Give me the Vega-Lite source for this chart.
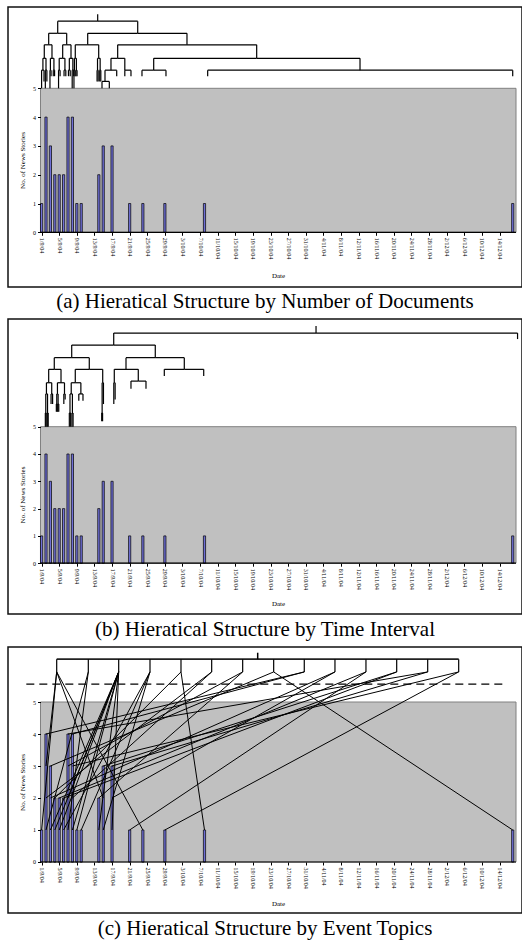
{
"$schema": "https://vega.github.io/schema/vega-lite/v6.json",
"background": "white",
"padding": {"left": 7, "top": 6, "right": 1, "bottom": 2},
"spacing": 5,
"config": {
  "view": {"stroke": "#111", "strokeWidth": 1.5},
  "title": {"font": "Liberation Serif", "fontSize": 21, "fontWeight": "normal", "color": "black", "anchor": "middle"}
},
"datasets": {
  "bars": [
    {"date": "1/9/04", "day": 0, "n": 1}, {"date": "2/9/04", "day": 1, "n": 4}, {"date": "3/9/04", "day": 2, "n": 3},
    {"date": "4/9/04", "day": 3, "n": 2}, {"date": "5/9/04", "day": 4, "n": 2}, {"date": "6/9/04", "day": 5, "n": 2},
    {"date": "7/9/04", "day": 6, "n": 4}, {"date": "8/9/04", "day": 7, "n": 4}, {"date": "9/9/04", "day": 8, "n": 1},
    {"date": "10/9/04", "day": 9, "n": 1}, {"date": "14/9/04", "day": 13, "n": 2}, {"date": "15/9/04", "day": 14, "n": 3},
    {"date": "17/9/04", "day": 16, "n": 3}, {"date": "21/9/04", "day": 20, "n": 1}, {"date": "24/9/04", "day": 23, "n": 1},
    {"date": "29/9/04", "day": 28, "n": 1}, {"date": "8/10/04", "day": 37, "n": 1}, {"date": "17/12/04", "day": 107, "n": 1}
  ],
  "edgesA": [
    {"px":12.74,"py":7.57,"cx":12.74,"cy":7.33},
    {"px":12.74,"py":7.33,"cx":3.66,"cy":6.91},
    {"px":12.74,"py":7.33,"cx":21.83,"cy":6.91},
    {"px":3.66,"py":6.91,"cx":1.61,"cy":6.51},
    {"px":3.66,"py":6.91,"cx":5.7,"cy":6.51},
    {"px":21.83,"py":6.91,"cx":10.47,"cy":6.51},
    {"px":21.83,"py":6.91,"cx":33.02,"cy":6.51},
    {"px":1.61,"py":6.51,"cx":0.61,"cy":6.04},
    {"px":1.61,"py":6.51,"cx":2.36,"cy":6.04},
    {"px":5.7,"py":6.51,"cx":4.79,"cy":6.04},
    {"px":5.7,"py":6.51,"cx":6.68,"cy":6.04},
    {"px":10.47,"py":6.51,"cx":7.65,"cy":6.04},
    {"px":10.47,"py":6.51,"cx":12.97,"cy":6.04},
    {"px":33.02,"py":6.51,"cx":17.28,"cy":6.04},
    {"px":33.02,"py":6.51,"cx":48.85,"cy":6.04},
    {"px":0.61,"py":6.04,"cx":0.3,"cy":5.63},
    {"px":0.61,"py":6.04,"cx":1.0,"cy":5.63},
    {"px":2.36,"py":6.04,"cx":2.0,"cy":5.63},
    {"px":2.36,"py":6.04,"cx":2.8,"cy":5.63},
    {"px":4.79,"py":6.04,"cx":4.0,"cy":5.63},
    {"px":4.79,"py":6.04,"cx":5.3,"cy":5.63},
    {"px":6.68,"py":6.04,"cx":6.3,"cy":5.63},
    {"px":6.68,"py":6.04,"cx":7.1,"cy":5.63},
    {"px":7.65,"py":6.04,"cx":7.45,"cy":5.63},
    {"px":7.65,"py":6.04,"cx":7.9,"cy":5.63},
    {"px":12.97,"py":6.04,"cx":12.7,"cy":5.63},
    {"px":12.97,"py":6.04,"cx":13.3,"cy":5.63},
    {"px":17.28,"py":6.04,"cx":15.76,"cy":5.63},
    {"px":17.28,"py":6.04,"cx":18.9,"cy":5.63},
    {"px":48.85,"py":6.04,"cx":25.46,"cy":5.63},
    {"px":48.85,"py":6.04,"cx":72.32,"cy":5.63},
    {"px":0.3,"py":5.63,"cx":0.0,"cy":5.0},
    {"px":0.3,"py":5.63,"cx":0.55,"cy":5.24},
    {"px":1.0,"py":5.63,"cx":0.85,"cy":5.0},
    {"px":1.0,"py":5.63,"cx":1.2,"cy":5.24},
    {"px":2.0,"py":5.63,"cx":1.9,"cy":5.0},
    {"px":2.0,"py":5.63,"cx":2.15,"cy":5.42},
    {"px":2.8,"py":5.63,"cx":2.65,"cy":5.42},
    {"px":2.8,"py":5.63,"cx":2.95,"cy":5.42},
    {"px":4.0,"py":5.63,"cx":3.85,"cy":5.0},
    {"px":4.0,"py":5.63,"cx":4.2,"cy":5.42},
    {"px":5.3,"py":5.63,"cx":5.1,"cy":5.42},
    {"px":5.3,"py":5.63,"cx":5.5,"cy":5.42},
    {"px":6.3,"py":5.63,"cx":6.1,"cy":5.42},
    {"px":6.3,"py":5.63,"cx":6.5,"cy":5.42},
    {"px":7.1,"py":5.63,"cx":6.95,"cy":5.0},
    {"px":7.1,"py":5.63,"cx":7.3,"cy":5.42},
    {"px":7.45,"py":5.63,"cx":7.35,"cy":5.0},
    {"px":7.45,"py":5.63,"cx":7.6,"cy":5.42},
    {"px":7.9,"py":5.63,"cx":7.8,"cy":5.42},
    {"px":7.9,"py":5.63,"cx":8.05,"cy":5.42},
    {"px":12.7,"py":5.63,"cx":12.6,"cy":5.24},
    {"px":12.7,"py":5.63,"cx":12.85,"cy":5.24},
    {"px":13.3,"py":5.63,"cx":13.2,"cy":5.24},
    {"px":13.3,"py":5.63,"cx":13.45,"cy":5.24},
    {"px":15.76,"py":5.63,"cx":14.4,"cy":5.24},
    {"px":15.76,"py":5.63,"cx":17.06,"cy":5.42},
    {"px":18.9,"py":5.63,"cx":18.9,"cy":5.42},
    {"px":18.9,"py":5.63,"cx":20.3,"cy":5.42},
    {"px":25.46,"py":5.63,"cx":22.8,"cy":5.42},
    {"px":25.46,"py":5.63,"cx":28.25,"cy":5.42},
    {"px":72.32,"py":5.63,"cx":37.72,"cy":5.42},
    {"px":72.32,"py":5.63,"cx":107.0,"cy":5.42},
    {"px":14.4,"py":5.24,"cx":13.72,"cy":5.0},
    {"px":14.4,"py":5.24,"cx":15.38,"cy":5.0}
  ],
  "edgesB": [
    {"px":62.33,"py":8.69,"cx":62.33,"cy":8.43},
    {"px":62.33,"py":8.43,"cx":16.38,"cy":7.99},
    {"px":62.33,"py":8.43,"cx":108.1,"cy":8.21},
    {"px":16.38,"py":7.99,"cx":6.84,"cy":7.53},
    {"px":16.38,"py":7.99,"cx":25.82,"cy":7.53},
    {"px":6.84,"py":7.53,"cx":2.88,"cy":7.10},
    {"px":6.84,"py":7.53,"cx":10.83,"cy":7.10},
    {"px":25.82,"py":7.53,"cx":19.17,"cy":7.10},
    {"px":25.82,"py":7.53,"cx":32.41,"cy":7.10},
    {"px":2.88,"py":7.10,"cx":1.61,"cy":6.61},
    {"px":2.88,"py":7.10,"cx":4.41,"cy":6.61},
    {"px":10.83,"py":7.10,"cx":7.65,"cy":6.61},
    {"px":10.83,"py":7.10,"cx":13.88,"cy":6.61},
    {"px":19.17,"py":7.10,"cx":16.51,"cy":6.61},
    {"px":19.17,"py":7.10,"cx":21.96,"cy":6.67},
    {"px":32.41,"py":7.10,"cx":27.87,"cy":6.86},
    {"px":32.41,"py":7.10,"cx":36.82,"cy":6.86},
    {"px":1.61,"py":6.61,"cx":1.1,"cy":6.2},
    {"px":1.61,"py":6.61,"cx":2.3,"cy":6.2},
    {"px":4.41,"py":6.61,"cx":3.6,"cy":6.2},
    {"px":4.41,"py":6.61,"cx":5.2,"cy":6.2},
    {"px":7.65,"py":6.61,"cx":6.73,"cy":6.2},
    {"px":7.65,"py":6.61,"cx":8.92,"cy":6.2},
    {"px":13.88,"py":6.61,"cx":13.75,"cy":5.5},
    {"px":13.88,"py":6.61,"cx":14.05,"cy":5.83},
    {"px":16.51,"py":6.61,"cx":16.4,"cy":5.83},
    {"px":16.51,"py":6.61,"cx":16.7,"cy":6.0},
    {"px":21.96,"py":6.67,"cx":20.3,"cy":6.39},
    {"px":21.96,"py":6.67,"cx":23.71,"cy":6.39},
    {"px":1.1,"py":6.2,"cx":0.95,"cy":5.5},
    {"px":1.1,"py":6.2,"cx":1.35,"cy":5.5},
    {"px":2.3,"py":6.2,"cx":2.15,"cy":5.83},
    {"px":2.3,"py":6.2,"cx":2.5,"cy":5.83},
    {"px":3.6,"py":6.2,"cx":3.45,"cy":5.83},
    {"px":3.6,"py":6.2,"cx":3.75,"cy":5.83},
    {"px":5.2,"py":6.2,"cx":5.05,"cy":5.83},
    {"px":5.2,"py":6.2,"cx":5.35,"cy":6.0},
    {"px":6.73,"py":6.2,"cx":6.45,"cy":5.5},
    {"px":6.73,"py":6.2,"cx":7.0,"cy":5.5},
    {"px":8.92,"py":6.2,"cx":8.45,"cy":5.95},
    {"px":8.92,"py":6.2,"cx":9.4,"cy":5.95},
    {"px":0.95,"py":5.5,"cx":0.85,"cy":5.0},
    {"px":0.95,"py":5.5,"cx":1.05,"cy":5.0},
    {"px":1.35,"py":5.5,"cx":1.3,"cy":5.0},
    {"px":1.35,"py":5.5,"cx":1.5,"cy":5.0},
    {"px":6.45,"py":5.5,"cx":6.3,"cy":5.0},
    {"px":6.45,"py":5.5,"cx":6.6,"cy":5.0},
    {"px":7.0,"py":5.5,"cx":6.9,"cy":5.0},
    {"px":7.0,"py":5.5,"cx":7.15,"cy":5.0},
    {"px":13.75,"py":5.5,"cx":13.65,"cy":5.2},
    {"px":13.75,"py":5.5,"cx":13.85,"cy":5.2},
    {"px":3.45,"py":5.83,"cx":3.35,"cy":5.55},
    {"px":3.45,"py":5.83,"cx":3.55,"cy":5.55},
    {"px":3.75,"py":5.83,"cx":3.7,"cy":5.55},
    {"px":3.75,"py":5.83,"cx":3.9,"cy":5.55}
  ],
  "topics": [
    {"topic":1,"tx":3.43},{"topic":2,"tx":10.61},{"topic":3,"tx":17.51},{"topic":4,"tx":24.62},
    {"topic":5,"tx":31.66},{"topic":6,"tx":38.63},{"topic":7,"tx":45.67},{"topic":8,"tx":52.71},
    {"topic":9,"tx":59.66},{"topic":10,"tx":66.63},{"topic":11,"tx":73.67},{"topic":12,"tx":80.65},
    {"topic":13,"tx":87.69},{"topic":14,"tx":94.73}
  ],
  "stories": [
    {"day":0,"level":1,"topic":1},{"day":1,"level":1,"topic":2},{"day":1,"level":2,"topic":6},{"day":1,"level":3,"topic":1},
    {"day":1,"level":4,"topic":9},{"day":2,"level":1,"topic":3},{"day":2,"level":2,"topic":10},{"day":2,"level":3,"topic":8},
    {"day":3,"level":1,"topic":3},{"day":3,"level":2,"topic":5},{"day":4,"level":1,"topic":3},{"day":4,"level":2,"topic":11},
    {"day":5,"level":1,"topic":4},{"day":5,"level":2,"topic":12},{"day":6,"level":1,"topic":2},{"day":6,"level":2,"topic":3},
    {"day":6,"level":3,"topic":7},{"day":6,"level":4,"topic":13},{"day":7,"level":1,"topic":3},{"day":7,"level":2,"topic":6},
    {"day":7,"level":3,"topic":14},{"day":7,"level":4,"topic":9},{"day":8,"level":1,"topic":3},{"day":9,"level":1,"topic":4},
    {"day":13,"level":1,"topic":3},{"day":13,"level":2,"topic":7},{"day":14,"level":1,"topic":4},{"day":14,"level":2,"topic":1},
    {"day":14,"level":3,"topic":12},{"day":16,"level":1,"topic":3},{"day":16,"level":2,"topic":10},{"day":16,"level":3,"topic":13},
    {"day":20,"level":1,"topic":11},{"day":23,"level":1,"topic":1},{"day":28,"level":1,"topic":14},{"day":37,"level":1,"topic":5},
    {"day":107,"level":1,"topic":8}
  ]
},
"vconcat": [
  {
    "width": 514, "height": 280,
    "title": {"text": "(a) Hieratical Structure by Number of Documents", "orient": "bottom", "offset": 4},
    "resolve": {"axis": {"x": "independent", "y": "independent"}},
    "layer": [
      {"data": {"name": "bars"}, "mark": {"type": "bar", "width": 2.2, "fill": "#6f6fd6", "stroke": "#000", "strokeWidth": 0.7},
       "encoding": {
         "x": {"field": "day", "type": "quantitative", "scale": {"domain": [-7.63, 109.11], "nice": false, "zero": false, "padding": 0},
               "axis": {"orient": "bottom", "values": [0,4,8,12,16,20,24,28,32,36,40,44,48,52,56,60,64,68,72,76,80,84,88,92,96,100,104],
                        "labelExpr": "timeFormat(datetime(2004, 8, 1 + datum.value), '%-d/%-m/%y')",
                        "labelAngle": 90, "labelOverlap": false, "labelFlush": false, "labelBound": false,
                        "labelFont": "Liberation Serif", "labelFontSize": 6, "labelColor": "black", "labelPadding": 2,
                        "tickSize": 3, "tickColor": "black", "domain": false, "grid": false, "offset": -54.7, "zindex": 1,
                        "title": "Date", "titleFont": "Liberation Serif", "titleFontSize": 7, "titleFontWeight": "normal", "titleColor": "black",
                        "titleX": 270, "titleY": 39.5}},
         "y": {"field": "n", "type": "quantitative", "scale": {"domain": [-1.899, 7.823], "nice": false, "zero": false, "padding": 0},
               "axis": {"orient": "left", "values": [0,1,2,3,4,5], "labelOverlap": false, "labelFont": "Liberation Serif", "labelFontSize": 6, "labelColor": "black", "labelPadding": 2,
                        "tickSize": 3, "tickColor": "black", "domain": false, "grid": false, "offset": -32.5, "zindex": 1,
                        "title": "No. of News Stories", "titleFont": "Liberation Serif", "titleFontSize": 7, "titleFontWeight": "normal", "titleColor": "black",
                        "titleX": -15, "titleY": 153}},
         "y2": {"datum": 0}}},
      {"data": {"values": [{}]}, "mark": {"type": "rect", "fill": "#c0c0c0", "stroke": "#808080", "strokeWidth": 1},
       "encoding": {"x": {"datum": -0.25, "type": "quantitative", "axis": null}, "x2": {"datum": 107.75}, "y": {"datum": 0, "type": "quantitative", "axis": null}, "y2": {"datum": 5}}},
      {"data": {"name": "bars"}, "mark": {"type": "bar", "width": 2.2, "fill": "#6f6fd6", "stroke": "#000", "strokeWidth": 0.7},
       "encoding": {"x": {"field": "day", "type": "quantitative", "axis": null}, "y": {"field": "n", "type": "quantitative", "axis": null}, "y2": {"datum": 0}}},
      {"data": {"values": [{}]}, "mark": {"type": "rule", "color": "black", "strokeWidth": 1.2},
       "encoding": {"x": {"datum": -0.25, "axis": null}, "x2": {"datum": 107.75}, "y": {"datum": 0, "axis": null}}},
      {"data": {"name": "edgesA"}, "mark": {"type": "rule", "color": "black", "strokeWidth": 1.2},
       "encoding": {"x": {"field": "px", "type": "quantitative", "axis": null}, "x2": {"field": "cx"}, "y": {"field": "py", "type": "quantitative", "axis": null}}},
      {"data": {"name": "edgesA"}, "mark": {"type": "rule", "color": "black", "strokeWidth": 1.2},
       "encoding": {"x": {"field": "cx", "type": "quantitative", "axis": null}, "y": {"field": "py", "type": "quantitative", "axis": null}, "y2": {"field": "cy"}}}
    ]
  },
  {
    "width": 514, "height": 295,
    "title": {"text": "(b) Hieratical Structure by Time Interval", "orient": "bottom", "offset": 5},
    "resolve": {"axis": {"x": "independent", "y": "independent"}},
    "layer": [
      {"data": {"name": "bars"}, "mark": {"type": "bar", "width": 2.2, "fill": "#6f6fd6", "stroke": "#000", "strokeWidth": 0.7},
       "encoding": {
         "x": {"field": "day", "type": "quantitative", "scale": {"domain": [-7.63, 109.11], "nice": false, "zero": false, "padding": 0},
               "axis": {"orient": "bottom", "values": [0,4,8,12,16,20,24,28,32,36,40,44,48,52,56,60,64,68,72,76,80,84,88,92,96,100,104],
                        "labelExpr": "timeFormat(datetime(2004, 8, 1 + datum.value), '%-d/%-m/%y')",
                        "labelAngle": 90, "labelOverlap": false, "labelFlush": false, "labelBound": false,
                        "labelFont": "Liberation Serif", "labelFontSize": 6, "labelColor": "black", "labelPadding": 2,
                        "tickSize": 3, "tickColor": "black", "domain": false, "grid": false, "offset": -50.8, "zindex": 1,
                        "title": "Date", "titleFont": "Liberation Serif", "titleFontSize": 7, "titleFontWeight": "normal", "titleColor": "black",
                        "titleX": 270, "titleY": 36}},
         "y": {"field": "n", "type": "quantitative", "scale": {"domain": [-1.861, 8.945], "nice": false, "zero": false, "padding": 0},
               "axis": {"orient": "left", "values": [0,1,2,3,4,5], "labelOverlap": false, "labelFont": "Liberation Serif", "labelFontSize": 6, "labelColor": "black", "labelPadding": 2,
                        "tickSize": 3, "tickColor": "black", "domain": false, "grid": false, "offset": -32.5, "zindex": 1,
                        "title": "No. of News Stories", "titleFont": "Liberation Serif", "titleFontSize": 7, "titleFontWeight": "normal", "titleColor": "black",
                        "titleX": -15, "titleY": 175.5}},
         "y2": {"datum": 0}}},
      {"data": {"values": [{}]}, "mark": {"type": "rect", "fill": "#c0c0c0", "stroke": "#808080", "strokeWidth": 1},
       "encoding": {"x": {"datum": -0.25, "type": "quantitative", "axis": null}, "x2": {"datum": 107.75}, "y": {"datum": 0, "type": "quantitative", "axis": null}, "y2": {"datum": 5}}},
      {"data": {"name": "bars"}, "mark": {"type": "bar", "width": 2.2, "fill": "#6f6fd6", "stroke": "#000", "strokeWidth": 0.7},
       "encoding": {"x": {"field": "day", "type": "quantitative", "axis": null}, "y": {"field": "n", "type": "quantitative", "axis": null}, "y2": {"datum": 0}}},
      {"data": {"values": [{}]}, "mark": {"type": "rule", "color": "black", "strokeWidth": 1.2},
       "encoding": {"x": {"datum": -0.25, "axis": null}, "x2": {"datum": 107.75}, "y": {"datum": 0, "axis": null}}},
      {"data": {"name": "edgesB"}, "mark": {"type": "rule", "color": "black", "strokeWidth": 1.2},
       "encoding": {"x": {"field": "px", "type": "quantitative", "axis": null}, "x2": {"field": "cx"}, "y": {"field": "py", "type": "quantitative", "axis": null}}},
      {"data": {"name": "edgesB"}, "mark": {"type": "rule", "color": "black", "strokeWidth": 1.2},
       "encoding": {"x": {"field": "cx", "type": "quantitative", "axis": null}, "y": {"field": "py", "type": "quantitative", "axis": null}, "y2": {"field": "cy"}}}
    ]
  },
  {
    "width": 514, "height": 266,
    "title": {"text": "(c) Hieratical Structure by Event Topics", "orient": "bottom", "offset": 5},
    "resolve": {"axis": {"x": "independent", "y": "independent"}},
    "layer": [
      {"data": {"name": "bars"}, "mark": {"type": "bar", "width": 2.2, "fill": "#6f6fd6", "stroke": "#000", "strokeWidth": 0.7},
       "encoding": {
         "x": {"field": "day", "type": "quantitative", "scale": {"domain": [-7.63, 109.11], "nice": false, "zero": false, "padding": 0},
               "axis": {"orient": "bottom", "values": [0,4,8,12,16,20,24,28,32,36,40,44,48,52,56,60,64,68,72,76,80,84,88,92,96,100,104],
                        "labelExpr": "timeFormat(datetime(2004, 8, 1 + datum.value), '%-d/%-m/%y')",
                        "labelAngle": 90, "labelOverlap": false, "labelFlush": false, "labelBound": false,
                        "labelFont": "Liberation Serif", "labelFontSize": 6, "labelColor": "black", "labelPadding": 2,
                        "tickSize": 3, "tickColor": "black", "domain": false, "grid": false, "offset": -51, "zindex": 1,
                        "title": "Date", "titleFont": "Liberation Serif", "titleFontSize": 7, "titleFontWeight": "normal", "titleColor": "black",
                        "titleX": 270, "titleY": 37.5}},
         "y": {"field": "n", "type": "quantitative", "scale": {"domain": [-1.594, 6.719], "nice": false, "zero": false, "padding": 0},
               "axis": {"orient": "left", "values": [0,1,2,3,4,5], "labelOverlap": false, "labelFont": "Liberation Serif", "labelFontSize": 6, "labelColor": "black", "labelPadding": 2,
                        "tickSize": 3, "tickColor": "black", "domain": false, "grid": false, "offset": -32.5, "zindex": 1,
                        "title": "No. of News Stories", "titleFont": "Liberation Serif", "titleFontSize": 7, "titleFontWeight": "normal", "titleColor": "black",
                        "titleX": -15, "titleY": 135}},
         "y2": {"datum": 0}}},
      {"data": {"values": [{}]}, "mark": {"type": "rect", "fill": "#c0c0c0", "stroke": "#808080", "strokeWidth": 1},
       "encoding": {"x": {"datum": -0.25, "type": "quantitative", "axis": null}, "x2": {"datum": 107.75}, "y": {"datum": 0, "type": "quantitative", "axis": null}, "y2": {"datum": 5}}},
      {"data": {"name": "bars"}, "mark": {"type": "bar", "width": 2.2, "fill": "#6f6fd6", "stroke": "#000", "strokeWidth": 0.7},
       "encoding": {"x": {"field": "day", "type": "quantitative", "axis": null}, "y": {"field": "n", "type": "quantitative", "axis": null}, "y2": {"datum": 0}}},
      {"data": {"values": [{}]}, "mark": {"type": "rule", "color": "black", "strokeWidth": 1.2},
       "encoding": {"x": {"datum": -0.25, "axis": null}, "x2": {"datum": 107.75}, "y": {"datum": 0, "axis": null}}},
      {"data": {"values": [{}]}, "mark": {"type": "rule", "color": "black", "strokeWidth": 1.2, "strokeDash": [8, 5]},
       "encoding": {"x": {"datum": -3.47, "axis": null}, "x2": {"datum": 105.3}, "y": {"datum": 5.56, "axis": null}}},
      {"data": {"values": [{}]}, "mark": {"type": "rule", "color": "#222", "strokeWidth": 1.8},
       "encoding": {"x": {"datum": 3.43, "axis": null}, "x2": {"datum": 94.73}, "y": {"datum": 6.34, "axis": null}}},
      {"data": {"values": [{}]}, "mark": {"type": "rule", "color": "black", "strokeWidth": 1.5},
       "encoding": {"x": {"datum": 49.08, "axis": null}, "y": {"datum": 6.34, "axis": null}, "y2": {"datum": 6.54}}},
      {"data": {"name": "topics"}, "mark": {"type": "rule", "color": "black", "strokeWidth": 1.2},
       "encoding": {"x": {"field": "tx", "type": "quantitative", "axis": null}, "y": {"datum": 6.34, "axis": null}, "y2": {"datum": 5.94}}},
      {"data": {"name": "stories"},
       "transform": [{"lookup": "topic", "from": {"data": {"name": "topics"}, "key": "topic", "fields": ["tx"]}}],
       "mark": {"type": "rule", "color": "black", "strokeWidth": 1},
       "encoding": {"x": {"field": "day", "type": "quantitative", "axis": null}, "x2": {"field": "tx"},
                    "y": {"field": "level", "type": "quantitative", "axis": null}, "y2": {"datum": 5.94}}}
    ]
  }
]
}
